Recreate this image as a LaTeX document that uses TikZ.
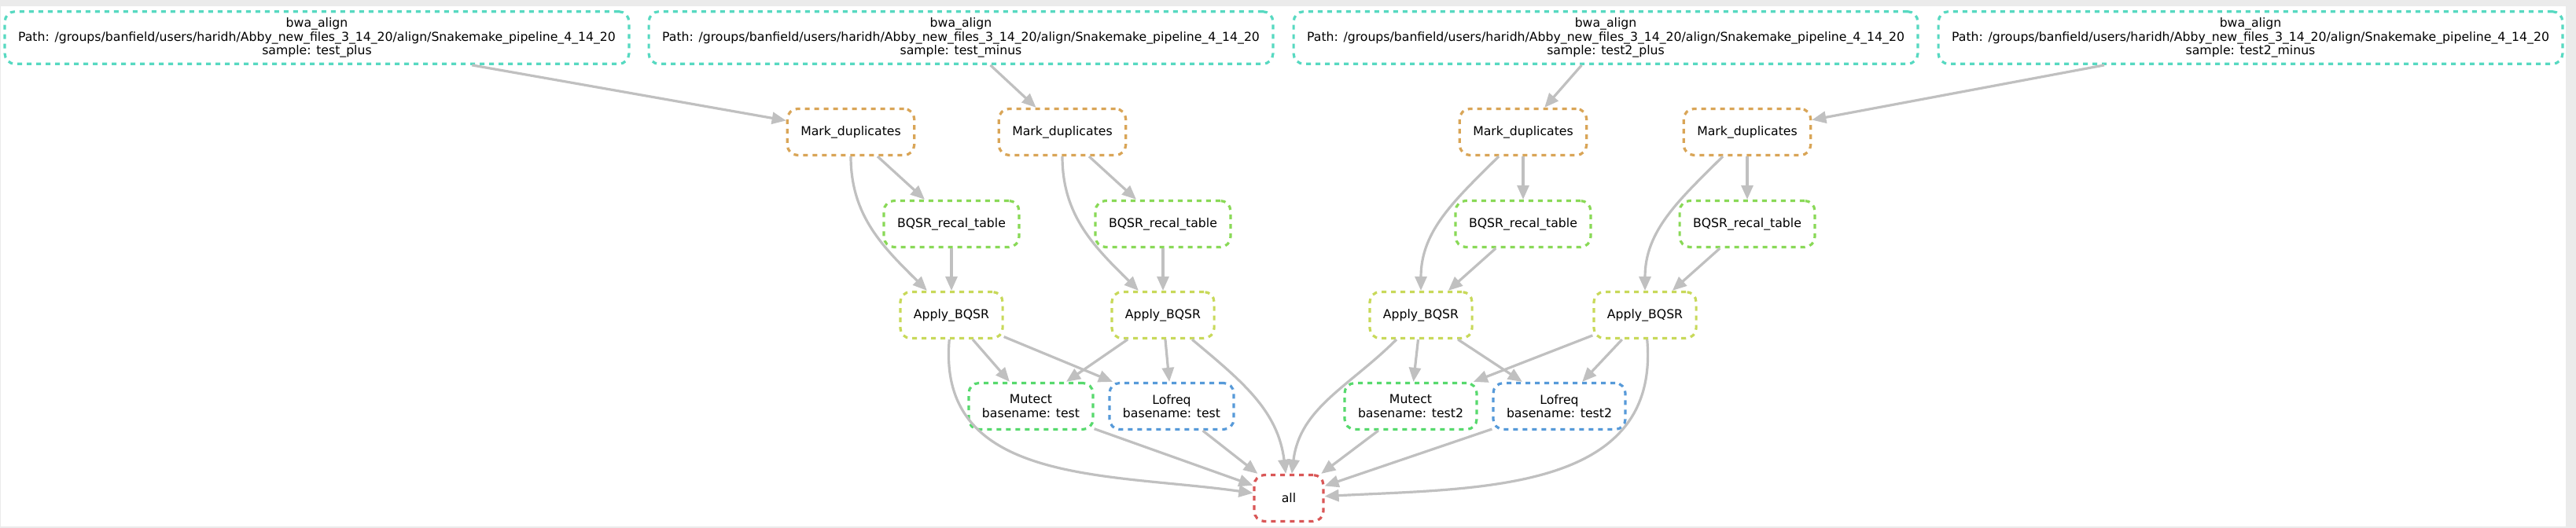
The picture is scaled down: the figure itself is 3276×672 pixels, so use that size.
\documentclass[tikz,border=0pt]{standalone}
\usepackage{fontspec}
\setmainfont{DejaVu Sans}
\usetikzlibrary{arrows.meta}

\definecolor{bgcol}{HTML}{EBEBEB}
\definecolor{edgecol}{HTML}{C0C0C0}
\definecolor{bwacol}{RGB}{87,217,193}
\definecolor{markcol}{RGB}{217,165,87}
\definecolor{recalcol}{RGB}{137,217,87}
\definecolor{applycol}{RGB}{200,217,90}
\definecolor{mutectcol}{RGB}{87,217,109}
\definecolor{lofreqcol}{RGB}{87,154,217}
\definecolor{allcol}{RGB}{217,87,87}

\begin{document}
\begin{tikzpicture}[x=0.5pt, y=-0.5pt,
	job/.style = {draw, line width=1.6pt, dash pattern=on 3pt off 3pt, rounded corners=6.5pt,
		align=center, inner xsep=8.5pt, inner ysep=4pt, minimum width=44pt, minimum height=29.5pt,
		font=\fontsize{7.85pt}{8.75pt}\selectfont},
	edge/.style = {draw=edgecol, line width=1.6pt, -{Triangle[length=9pt, width=7.5pt]}}]
	\fill[bgcol] (0,0) rectangle (3276,672);
	\fill[white] (1,8) rectangle (3263,670);

	\node[job, draw=bwacol] (b1) at (403,48) {bwa\_align\\Path: /groups/banfield/users/haridh/Abby\_new\_files\_3\_14\_20/align/Snakemake\_pipeline\_4\_14\_20\\sample: test\_plus};
	\node[job, draw=bwacol] (b2) at (1222,48) {bwa\_align\\Path: /groups/banfield/users/haridh/Abby\_new\_files\_3\_14\_20/align/Snakemake\_pipeline\_4\_14\_20\\sample: test\_minus};
	\node[job, draw=bwacol] (b3) at (2042,48) {bwa\_align\\Path: /groups/banfield/users/haridh/Abby\_new\_files\_3\_14\_20/align/Snakemake\_pipeline\_4\_14\_20\\sample: test2\_plus};
	\node[job, draw=bwacol] (b4) at (2862,48) {bwa\_align\\Path: /groups/banfield/users/haridh/Abby\_new\_files\_3\_14\_20/align/Snakemake\_pipeline\_4\_14\_20\\sample: test2\_minus};

	\node[job, draw=markcol] (m1) at (1082,168) {Mark\_duplicates};
	\node[job, draw=markcol] (m2) at (1351,168) {Mark\_duplicates};
	\node[job, draw=markcol] (m3) at (1937,168) {Mark\_duplicates};
	\node[job, draw=markcol] (m4) at (2222,168) {Mark\_duplicates};

	\node[job, draw=recalcol] (q1) at (1210,285) {BQSR\_recal\_table};
	\node[job, draw=recalcol] (q2) at (1479,285) {BQSR\_recal\_table};
	\node[job, draw=recalcol] (q3) at (1937,285) {BQSR\_recal\_table};
	\node[job, draw=recalcol] (q4) at (2222,285) {BQSR\_recal\_table};

	\node[job, draw=applycol] (a1) at (1210,401) {Apply\_BQSR};
	\node[job, draw=applycol] (a2) at (1479,401) {Apply\_BQSR};
	\node[job, draw=applycol] (a3) at (1807,401) {Apply\_BQSR};
	\node[job, draw=applycol] (a4) at (2092,401) {Apply\_BQSR};

	\node[job, draw=mutectcol] (mu1) at (1311,517) {Mutect\\basename: test};
	\node[job, draw=lofreqcol] (lo1) at (1490,517) {Lofreq\\basename: test};
	\node[job, draw=mutectcol] (mu2) at (1794,517) {Mutect\\basename: test2};
	\node[job, draw=lofreqcol] (lo2) at (1983,517) {Lofreq\\basename: test2};

	\node[job, draw=allcol] (all) at (1639,634) {all};

	\draw[edge] (b1) -- (m1);
	\draw[edge] (b2) -- (m2);
	\draw[edge] (b3) -- (m3);
	\draw[edge] (b4) -- (m4);

	\draw[edge] (m1) -- (q1);
	\draw[edge] (m2) -- (q2);
	\draw[edge] (m3) -- (q3);
	\draw[edge] (m4) -- (q4);
	\draw[edge] (m1) to[out=-90, in=135] (a1);
	\draw[edge] (m2) to[out=-90, in=135] (a2);
	\draw[edge] (m3) to[out=-135, in=90] (a3);
	\draw[edge] (m4) to[out=-135, in=90] (a4);

	\draw[edge] (q1) -- (a1);
	\draw[edge] (q2) -- (a2);
	\draw[edge] (q3) -- (a3);
	\draw[edge] (q4) -- (a4);

	\draw[edge] (a1) -- (mu1);
	\draw[edge] (a1) -- (lo1);
	\draw[edge] (a2) -- (mu1);
	\draw[edge] (a2) -- (lo1);
	\draw[edge] (a3) -- (mu2);
	\draw[edge] (a3) -- (lo2);
	\draw[edge] (a4) -- (mu2);
	\draw[edge] (a4) -- (lo2);

	\draw[edge] (a1) to[out=-95, in=172, looseness=1.1] (all);
	\draw[edge] (a2) to[out=-40, in=97] (all);
	\draw[edge] (a3) to[out=-135, in=83] (all);
	\draw[edge] (a4) to[out=-85, in=3, looseness=1.1] (all);
	\draw[edge] (mu1) -- (all);
	\draw[edge] (lo1) -- (all);
	\draw[edge] (mu2) -- (all);
	\draw[edge] (lo2) -- (all);
\end{tikzpicture}
\end{document}
